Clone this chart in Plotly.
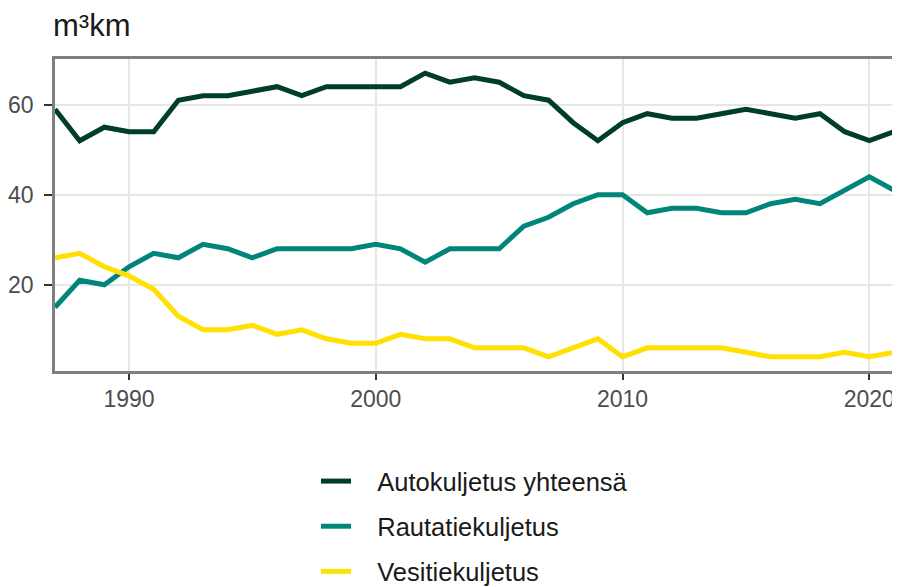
import plotly.graph_objects as go

years = list(range(1987, 2022))
auto = [59, 52, 55, 54, 54, 61, 62, 62, 63, 64, 62, 64, 64, 64, 64, 67, 65, 66, 65, 62,
        61, 56, 52, 56, 58, 57, 57, 58, 59, 58, 57, 58, 54, 52, 54]
rail = [15, 21, 20, 24, 27, 26, 29, 28, 26, 28, 28, 28, 28, 29, 28, 25, 28, 28, 28, 33,
        35, 38, 40, 40, 36, 37, 37, 36, 36, 38, 39, 38, 41, 44, 41]
water = [26, 27, 24, 22, 19, 13, 10, 10, 11, 9, 10, 8, 7, 7, 9, 8, 8, 6, 6, 6,
         4, 6, 8, 4, 6, 6, 6, 6, 5, 4, 4, 4, 5, 4, 5]

series_names = ["Autokuljetus yhteensä", "Rautatiekuljetus", "Vesitiekuljetus"]
series_values = [auto, rail, water]
colors = ["#003d2b", "#00857a", "#ffe000"]

# page body has an 8px default margin; figure is sized/offset to compensate
W, H = 892, 579

fig = go.Figure()
for name, vals, col in zip(series_names, series_values, colors):
    fig.add_trace(go.Scatter(x=years, y=vals, mode="lines", name="\u00a0\u00a0\u00a0" + name,
                             legendgroup=name,
                             line=dict(color=col, width=5)))

fig.update_layout(
    width=W, height=H,
    margin=dict(l=47, r=6, t=51, b=216, autoexpand=False),
    paper_bgcolor="white", plot_bgcolor="white",
    font=dict(family="Liberation Sans, Arial, sans-serif", color="#1a1a1a"),
    title=dict(text="m³km", x=45/W, xanchor="left", y=1 - 17/H, yanchor="middle",
               font=dict(size=31, color="#1a1a1a")),
    showlegend=True,
    legend=dict(orientation="v", x=0.5, xanchor="center", yref="container",
                y=1 - 450/H, yanchor="top",
                font=dict(size=25.5, color="#1a1a1a"), tracegroupgap=9),
)
fig.update_xaxes(range=[1987, 2021], tickvals=[1990, 2000, 2010, 2020],
                 showgrid=True, gridcolor="#e6e6e6", gridwidth=2,
                 showline=True, linecolor="#7f7f7f", linewidth=2.5, mirror=True,
                 ticks="outside", ticklen=6, tickwidth=2, tickcolor="#333333",
                 tickfont=dict(size=23, color="#4d4d4d"), zeroline=False,
                 automargin=False)
fig.update_yaxes(range=[0.85, 70.15], tickvals=[20, 40, 60],
                 showgrid=True, gridcolor="#e6e6e6", gridwidth=2,
                 showline=True, linecolor="#7f7f7f", linewidth=2.5, mirror=True,
                 ticks="outside", ticklen=8, tickwidth=2, tickcolor="#333333",
                 tickfont=dict(size=23, color="#4d4d4d"), zeroline=False,
                 ticklabelstandoff=6, automargin=False)

fig.write_html("out.html")
